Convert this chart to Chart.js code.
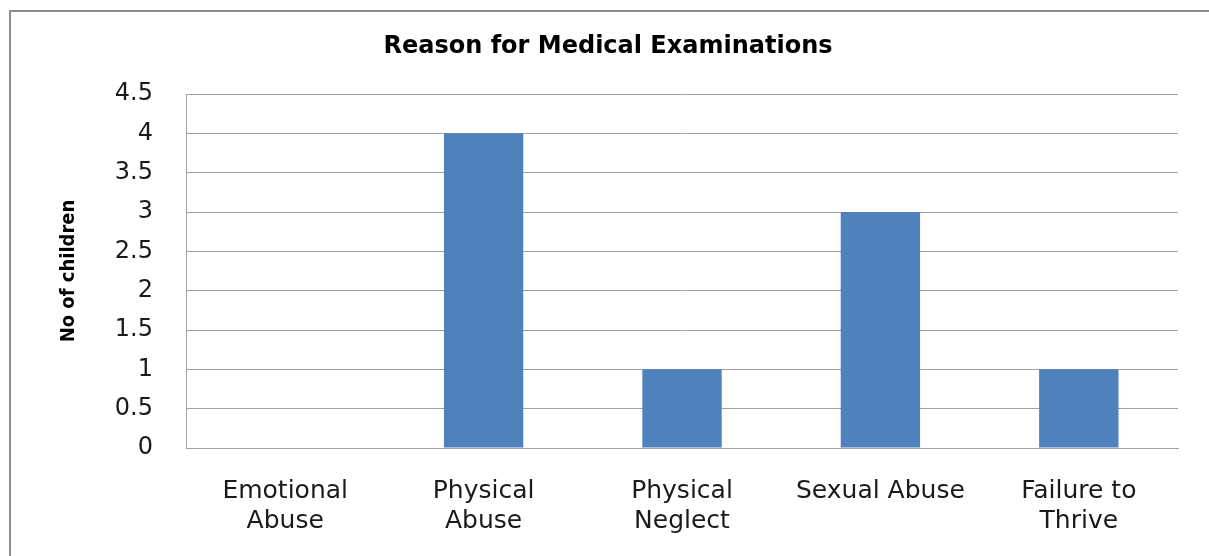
<!DOCTYPE html>
<html>
<head>
<meta charset="utf-8">
<script src="https://cdn.jsdelivr.net/npm/chart.js@4/dist/chart.umd.min.js"></script>
<style>
html,body{margin:0;padding:0;background:#fff;}
#wrap{width:1209px;height:556px;position:relative;}
</style>
</head>
<body>
<div id="wrap"><canvas id="c" width="1209" height="556"></canvas></div>
<script>
const categories = [["Emotional","Abuse"],["Physical","Abuse"],["Physical","Neglect"],["Sexual Abuse"],["Failure to","Thrive"]];
const values = [0, 4, 1, 3, 1];
const chartTitle = "Reason for Medical Examinations";
const yTitle = "No of children";

const framePlugin = {
  id: 'frame',
  beforeDraw(chart) {
    const ctx = chart.ctx;
    ctx.save();
    ctx.fillStyle = '#fff';
    ctx.fillRect(0, 0, chart.width, chart.height);
    ctx.strokeStyle = '#8e8e8e';
    ctx.lineWidth = 2;
    ctx.beginPath();
    ctx.moveTo(10, chart.height);
    ctx.lineTo(10, 11);
    ctx.lineTo(chart.width, 11);
    ctx.stroke();
    ctx.restore();
  }
};

new Chart(document.getElementById('c'), {
  type: 'bar',
  data: {
    labels: categories,
    datasets: [{
      data: values,
      backgroundColor: '#4f81bd',
      borderWidth: 0,
      barPercentage: 0.8,
      categoryPercentage: 0.5
    }]
  },
  options: {
    responsive: false,
    animation: false,
    devicePixelRatio: 1,
    layout: { padding: { left: 38, right: 31, top: 0, bottom: 0 } },
    plugins: {
      legend: { display: false },
      tooltip: { enabled: false },
      title: {
        display: true,
        text: chartTitle,
        color: '#000',
        font: { family: 'DejaVu Sans', weight: 'bold', size: 24, lineHeight: '28px' },
        padding: { top: 33, bottom: 33 }
      }
    },
    scales: {
      x: {
        afterFit(s) { s.height = 108; },
        grid: { display: false, drawTicks: false },
        border: { display: true, color: '#a0a0a0', width: 1 },
        ticks: {
          color: '#1a1a1a',
          font: { family: 'DejaVu Sans', size: 25, lineHeight: '30px' },
          padding: 28,
          maxRotation: 0,
          autoSkip: false
        }
      },
      y: {
        min: 0, max: 4.5,
        afterFit(s) { s.width = 148; },
        grid: { color: '#a0a0a0', lineWidth: 1, drawTicks: false },
        border: { display: true, color: '#a0a0a0', width: 1 },
        ticks: {
          stepSize: 0.5,
          color: '#1a1a1a',
          font: { family: 'DejaVu Sans', size: 24 },
          padding: 33,
          callback: (v) => String(v)
        },
        title: {
          display: true,
          text: yTitle,
          color: '#000',
          font: { family: 'DejaVu Sans Condensed', weight: 'bold', size: 20, lineHeight: '24px' },
          padding: { top: 19, bottom: 0 }
        }
      }
    }
  },
  plugins: [framePlugin]
});
</script>
</body>
</html>
